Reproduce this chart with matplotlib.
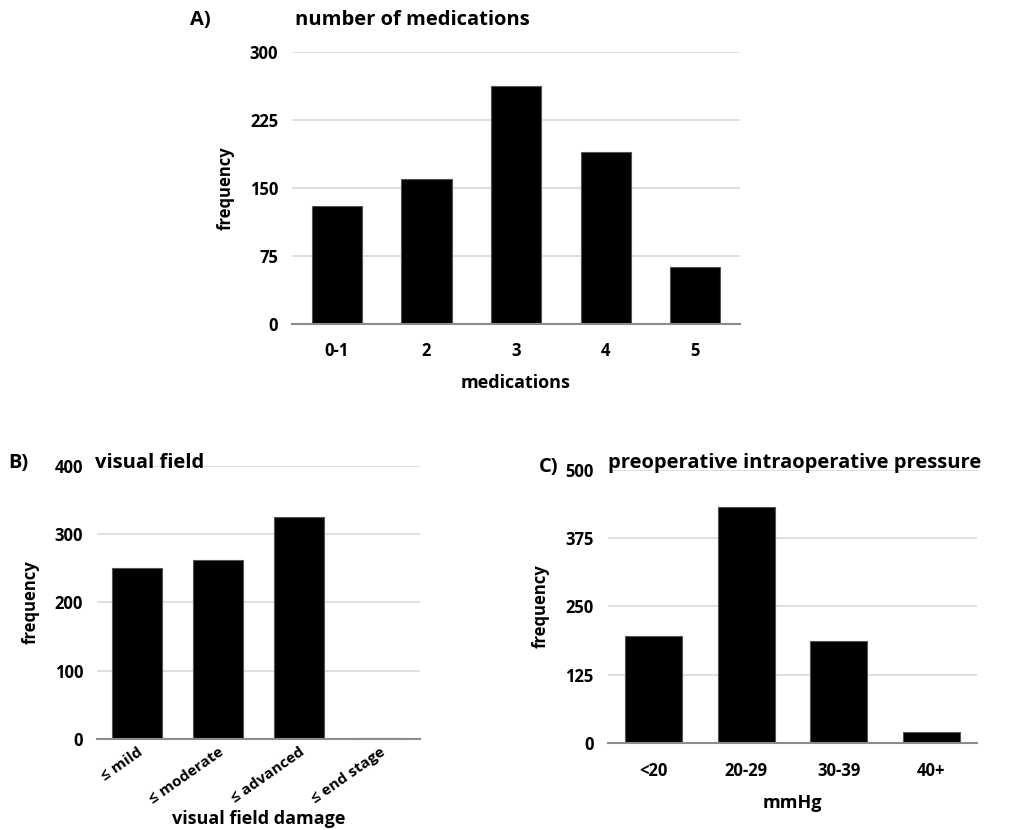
import matplotlib.pyplot as plt

plt.rcParams['font.family'] = ['Open Sans', 'DejaVu Sans']
plt.rcParams['font.weight'] = 'bold'

# panel A
med_labels = ["0-1", "2", "3", "4", "5"]
med_counts = [130, 160, 262, 190, 63]

# panel B
vf_labels = ["≤ mild", "≤ moderate", "≤ advanced", "≤ end stage"]
vf_counts = [251, 262, 325, 2]

# panel C
iop_labels = ["<20", "20-29", "30-39", "40+"]
iop_counts = [196, 433, 187, 20]


def style_axes(ax, ymax, step):
    ax.set_ylim(0, ymax)
    ax.set_yticks(range(0, ymax + 1, step))
    ax.grid(axis="y", color="#d9d9d9", linewidth=1.2)
    ax.set_axisbelow(True)
    for side in ["top", "right", "left"]:
        ax.spines[side].set_visible(False)
    ax.spines["bottom"].set_color("#8c8c8c")
    ax.spines["bottom"].set_linewidth(1.5)
    ax.tick_params(length=0, labelsize=12, pad=10)


fig = plt.figure(figsize=(10.16, 8.3), dpi=100)

ax1 = fig.add_axes([0.2874, 0.6096, 0.441, 0.3277])
ax1.bar(med_labels, med_counts, width=0.56, color="black", edgecolor="#555555", linewidth=0.8)
ax1.set_xlim(-0.5, len(med_labels) - 0.5)
style_axes(ax1, 300, 75)
ax1.tick_params(axis="x", pad=13)
ax1.set_xlabel("medications", fontsize=13, fontweight="bold", labelpad=10)
ax1.set_ylabel("frequency", fontsize=12, fontweight="bold", labelpad=11)

ax2 = fig.add_axes([0.0955, 0.1096, 0.318, 0.329])
ax2.bar(vf_labels, vf_counts, width=0.62, color="black", edgecolor="#555555", linewidth=0.8)
ax2.set_xlim(-0.5, len(vf_labels) - 0.5)
style_axes(ax2, 400, 100)
ax2.tick_params(axis="x", pad=4, labelsize=11)
plt.setp(ax2.get_xticklabels(), rotation=35, ha="right", rotation_mode="anchor")
ax2.set_xlabel("visual field damage", fontsize=13, fontweight="bold")
ax2.xaxis.set_label_coords(0.5, -0.26)
ax2.set_ylabel("frequency", fontsize=12, fontweight="bold", labelpad=11)

ax3 = fig.add_axes([0.598, 0.1048, 0.364, 0.329])
ax3.bar(iop_labels, iop_counts, width=0.62, color="black", edgecolor="#555555", linewidth=0.8)
ax3.set_xlim(-0.5, len(iop_labels) - 0.5)
style_axes(ax3, 500, 125)
ax3.tick_params(axis="x", pad=14)
ax3.set_xlabel("mmHg", fontsize=13, fontweight="bold", labelpad=10)
ax3.set_ylabel("frequency", fontsize=12, fontweight="bold", labelpad=11)

# panel titles
fig.text(190 / 1016, 1 - 20 / 830, "A)", fontsize=14.5, fontweight="bold", va="center")
fig.text(295 / 1016, 1 - 20 / 830, "number of medications", fontsize=14.5, fontweight="bold", va="center")
fig.text(8 / 1016, 1 - 463 / 830, "B)", fontsize=14.5, fontweight="bold", va="center")
fig.text(95 / 1016, 1 - 463 / 830, "visual field", fontsize=14.5, fontweight="bold", va="center")
fig.text(539 / 1016, 1 - 467 / 830, "C)", fontsize=14.5, fontweight="bold", va="center")
fig.text(608 / 1016, 1 - 463 / 830, "preoperative intraoperative pressure", fontsize=14.5, fontweight="bold", va="center")

fig.savefig("out.png", dpi=100)
